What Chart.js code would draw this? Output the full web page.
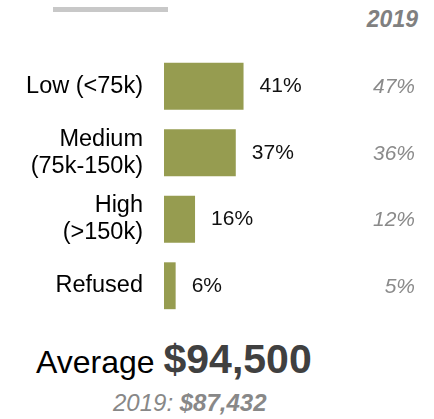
<!DOCTYPE html>
<html>
<head>
<meta charset="utf-8">
<script src="https://cdn.jsdelivr.net/npm/chart.js@4"></script>
<style>
    body { margin: 0; background: #fff; font-family: "Liberation Sans", Arial, sans-serif; }
    #wrap { position: relative; width: 434px; height: 419px; overflow: hidden; }
    #chartBox { position: absolute; left: 0; top: 0; width: 434px; height: 330px; }
    .bar-rule { position: absolute; left: 53px; top: 7px; width: 115px; height: 5px; background: #c8c8c8; }
    .year-head { position: absolute; right: 16px; top: 6px; font-size: 23px; font-weight: bold; font-style: italic; color: #808080; }
    .avg { position: absolute; left: 36px; top: 336px; white-space: nowrap; color: #000; }
    .avg .lbl { font-size: 32px; }
    .avg .num { font-size: 41px; font-weight: bold; color: #404040; }
    .prev { position: absolute; left: 113px; top: 389px; font-size: 24px; font-style: italic; color: #888; white-space: nowrap; }
</style>
</head>
<body>
<div id="wrap">
    <div class="bar-rule"></div>
    <div class="year-head" id="yearHead"></div>
    <div id="chartBox"><canvas id="incomeChart"></canvas></div>
    <div class="avg"><span class="lbl">Average </span><span class="num" id="avgNow"></span></div>
    <div class="prev" id="avgPrev"></div>
</div>
<script>
// Indkomstgrupper og andele
const categories = [["Low (<75k)"], ["Medium", "(75k-150k)"], ["High", "(>150k)"], ["Refused"]];
const shareNow = [41, 37, 16, 6];
const sharePrev = [47, 36, 12, 5];
const prevYear = "2019";
const avgNow = "$94,500";
const avgPrev = "$87,432";

document.getElementById("yearHead").textContent = prevYear;
document.getElementById("avgNow").textContent = avgNow;
document.getElementById("avgPrev").innerHTML = prevYear + ": <b>" + avgPrev + "</b>";

const FONT = "'Liberation Sans', Arial, sans-serif";

// Tegner procent-labels ved siden af søjlerne + 2019-kolonnen
const valueLabels = {
    id: "valueLabels",
    afterDatasetsDraw(chart) {
        const ctx = chart.ctx;
        const bars = chart.getDatasetMeta(0).data;
        ctx.save();
        ctx.textBaseline = "middle";
        bars.forEach((bar, i) => {
            ctx.font = "21px " + FONT;
            ctx.fillStyle = "#111";
            ctx.textAlign = "left";
            ctx.fillText(shareNow[i] + "%", bar.x + 16, bar.y);

            ctx.font = "italic 21px " + FONT;
            ctx.fillStyle = "#8a8a8a";
            ctx.textAlign = "right";
            ctx.fillText(sharePrev[i] + "%", 415, bar.y + 1);
        });
        ctx.restore();
    }
};

new Chart(document.getElementById("incomeChart"), {
    type: "bar",
    data: {
        labels: categories,
        datasets: [{
            data: shareNow,
            backgroundColor: "#969c50",
            borderWidth: 0,
            categoryPercentage: 1,
            barPercentage: 0.705
        }]
    },
    options: {
        indexAxis: "y",
        responsive: true,
        maintainAspectRatio: false,
        animation: false,
        layout: { padding: { top: 53, bottom: 11, left: 0, right: 76 } },
        plugins: { legend: { display: false }, tooltip: { enabled: false } },
        scales: {
            x: { display: false, min: 0, max: 100 },
            y: {
                grid: { display: false, drawTicks: false },
                border: { display: false },
                ticks: {
                    padding: 21,
                    color: "#000",
                    font: { family: FONT, size: 23.5, lineHeight: "27px" }
                },
                afterFit(scale) {
                    scale.width = 164;
                    scale.paddingTop = 0; // ellers krymper plotområdet
                    scale.paddingBottom = 0;
                }
            }
        }
    },
    plugins: [valueLabels]
});
</script>
</body>
</html>
